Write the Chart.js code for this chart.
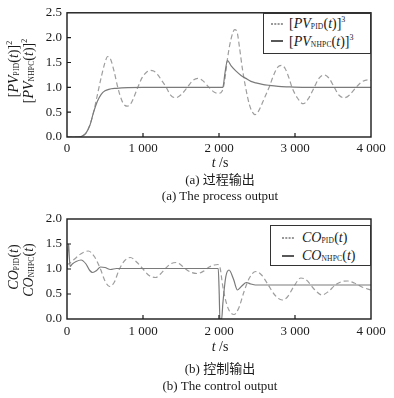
<!DOCTYPE html>
<html><head><meta charset="utf-8">
<script src="https://cdn.jsdelivr.net/npm/chart.js@4.4.1/dist/chart.umd.min.js"></script>
<style>
body{margin:0;background:#fff;}
#wrap{position:relative;width:394px;height:398px;overflow:hidden;font-family:"Liberation Serif","DejaVu Serif","Noto Sans CJK SC",serif;color:#1a1a1a;}
canvas{position:absolute;left:0;}
.t{position:absolute;white-space:nowrap;}
.c{transform:translateX(-50%);font-size:13px;line-height:14px;}
.r{font-size:14px;line-height:14px;transform:translate(-50%,-50%) rotate(-90deg);}
.lg{font-size:14px;line-height:14px;}
i{font-style:italic;}
.sb{font-size:7.5px;position:relative;top:1px;letter-spacing:0.2px;}
.sp{font-size:8px;position:relative;top:-6px;}
.box{position:absolute;border:1.3px solid #333;box-sizing:border-box;background:#fff;}
svg{position:absolute;}
</style>
</head><body>
<div id="wrap">
<canvas id="c1" width="394" height="200" style="top:0"></canvas>
<canvas id="c2" width="394" height="198" style="top:200px"></canvas>

<div class="t r" style="left:15px;top:69px">[<i>PV</i><span class="sb">PID</span>(<i>t</i>)]<span class="sp">2</span></div>
<div class="t r" style="left:30px;top:71px">[<i>PV</i><span class="sb">NHPC</span>(<i>t</i>)]<span class="sp">2</span></div>
<div class="t r" style="left:15px;top:267px"><i>CO</i><span class="sb">PID</span>(<i>t</i>)</div>
<div class="t r" style="left:30px;top:270px"><i>CO</i><span class="sb">NHPC</span>(<i>t</i>)</div>

<div class="box" style="left:263px;top:13px;width:108px;height:41px"></div>
<svg style="left:271px;top:20px" width="13" height="8"><line x1="0" y1="4" x2="12" y2="4" stroke="#333" stroke-width="1.2" stroke-dasharray="2,1.3"/></svg>
<svg style="left:271px;top:37px" width="13" height="8"><line x1="0" y1="4" x2="12" y2="4" stroke="#111" stroke-width="1.4"/></svg>
<div class="t lg" style="left:289px;top:17px">[<i>PV</i><span class="sb">PID</span>(<i>t</i>)]<span class="sp">3</span></div>
<div class="t lg" style="left:289px;top:35px">[<i>PV</i><span class="sb">NHPC</span>(<i>t</i>)]<span class="sp">3</span></div>

<div class="box" style="left:270px;top:225px;width:101px;height:41px"></div>
<svg style="left:282px;top:234px" width="13" height="8"><line x1="0" y1="4" x2="12" y2="4" stroke="#333" stroke-width="1.2" stroke-dasharray="2,1.3"/></svg>
<svg style="left:282px;top:252px" width="13" height="8"><line x1="0" y1="4" x2="12" y2="4" stroke="#111" stroke-width="1.4"/></svg>
<div class="t lg" style="left:302px;top:231px"><i>CO</i><span class="sb">PID</span>(<i>t</i>)</div>
<div class="t lg" style="left:302px;top:249px"><i>CO</i><span class="sb">NHPC</span>(<i>t</i>)</div>

<div class="t c" style="left:220px;top:156px;font-size:14px"><i>t</i> /s</div>
<div class="t c" style="left:220px;top:173px">(a) 过程输出</div>
<div class="t c" style="left:220px;top:189px">(a) The process output</div>
<div class="t c" style="left:220px;top:340px;font-size:14px"><i>t</i> /s</div>
<div class="t c" style="left:220px;top:362px">(b) 控制输出</div>
<div class="t c" style="left:220px;top:379px">(b) The control output</div>
</div>

<script>
// ---- tick labels ----
const xTickLabels = ['0', '1 000', '2 000', '3 000', '4 000'];
const yTickLabelsPV = ['0.0', '0.5', '1.0', '1.5', '2.0', '2.5'];
const yTickLabelsCO = ['0.0', '0.5', '1.0', '1.5', '2.0'];

// ---- (a) process output ----
const tPvPid = [0,150,200,250,300,350,400,450,500,535,575,620,668,720,760,795,835,880,932,990,1050,1100,1140,1190,1250,1306,1360,1429,1500,1583,1650,1720,1790,1868,1940,2000,2040,2065,2085,2111,2155,2207,2240,2270,2310,2350,2400,2440,2475,2520,2580,2620,2660,2720,2770,2823,2870,2920,2960,3030,3108,3180,3253,3320,3385,3450,3517,3580,3649,3720,3803,3880,3960,4000];
const pvPid = [0,0,0.02,0.08,0.24,0.5,0.85,1.2,1.5,1.62,1.56,1.32,1.0,0.74,0.64,0.62,0.66,0.8,1.0,1.2,1.31,1.34,1.33,1.26,1.13,1.0,0.85,0.79,0.85,1.0,1.13,1.18,1.13,1.0,0.9,0.88,0.92,1.05,1.25,1.57,1.95,2.16,2.1,1.8,1.35,1.0,0.65,0.5,0.45,0.52,0.72,0.86,1.0,1.25,1.4,1.44,1.38,1.19,1.0,0.79,0.67,0.78,1.0,1.19,1.25,1.18,1.0,0.84,0.79,0.85,1.0,1.11,1.15,1.14];
const tPvNhpc = [0,150,200,250,300,350,400,450,500,550,650,800,1000,2000,2050,2080,2111,2160,2221,2290,2353,2420,2485,2570,2660,2780,2900,3100,4000];
const pvNhpc = [0,0,0.02,0.08,0.23,0.5,0.72,0.86,0.93,0.96,0.98,0.995,1.0,1.0,1.0,1.3,1.54,1.43,1.33,1.24,1.18,1.12,1.09,1.06,1.04,1.02,1.01,1.0,1.0];

// ---- (b) control output ----
const tCoPid = [0,40,100,180,280,360,440,500,560,620,690,760,835,915,1000,1080,1165,1230,1290,1360,1440,1500,1561,1640,1715,1800,1870,1940,1985,2015,2045,2080,2130,2198,2260,2330,2400,2484,2560,2640,2740,2830,2900,2980,3078,3150,3250,3355,3440,3530,3620,3694,3780,3880,4000];
const coPid = [1.08,1.12,1.2,1.3,1.36,1.25,1.0,0.76,0.65,0.73,1.0,1.17,1.23,1.14,1.0,0.87,0.83,0.9,1.0,1.1,1.13,1.08,1.0,0.93,0.91,0.96,1.04,1.08,1.09,1.02,0.7,0.42,0.18,0.09,0.22,0.55,0.82,0.95,0.88,0.7,0.47,0.38,0.44,0.64,0.82,0.78,0.6,0.48,0.55,0.68,0.75,0.76,0.72,0.64,0.58];
const tCoNhpc = [0,18,22,40,70,120,185,250,300,338,390,440,500,572,650,1000,1990,2003,2012,2035,2050,2090,2132,2190,2243,2300,2361,2420,2480,3000,4000];
const coNhpc = [1.0,1.5,1.48,1.05,1.1,1.15,1.18,1.1,0.97,0.93,0.97,1.04,1.03,0.99,1.01,1.01,1.01,0.5,0.0,0.0,0.3,0.85,0.98,0.8,0.58,0.66,0.73,0.7,0.68,0.68,0.68];

const pts = (ts, vs) => ts.map((t, i) => ({x: t, y: vs[i]}));

const framePlugin = {
  id: 'frame',
  afterDraw(chart) {
    const {ctx, chartArea: a, scales: {x, y}} = chart;
    ctx.save();
    ctx.strokeStyle = '#1a1a1a';
    ctx.lineWidth = 1.4;
    ctx.strokeRect(a.left, a.top, a.right - a.left, a.bottom - a.top);
    ctx.lineWidth = 1.2;
    ctx.beginPath();
    x.ticks.forEach(tk => {
      const px = x.getPixelForValue(tk.value);
      if (px > a.left + 2 && px < a.right - 2) { ctx.moveTo(px, a.bottom); ctx.lineTo(px, a.bottom - 4); }
    });
    y.ticks.forEach(tk => {
      const py = y.getPixelForValue(tk.value);
      if (py > a.top + 2 && py < a.bottom - 2) { ctx.moveTo(a.left, py); ctx.lineTo(a.left + 4, py); }
    });
    ctx.stroke();
    ctx.restore();
  }
};

function makeChart(id, pidData, nhpcData, yMax, yLabels, padTop, xHeight, xPad) {
  const font = {family: "'Liberation Serif','DejaVu Serif',serif", size: 13};
  return new Chart(document.getElementById(id), {
    type: 'line',
    data: {
      datasets: [
        {data: nhpcData, borderColor: '#7a7a7a', borderWidth: 1.2, pointRadius: 0, cubicInterpolationMode: 'monotone', fill: false},
        {data: pidData, borderColor: '#9e9e9e', borderWidth: 1.2, borderDash: [5, 3], pointRadius: 0, cubicInterpolationMode: 'monotone', fill: false}
      ]
    },
    options: {
      responsive: false, animation: false, devicePixelRatio: 1,
      layout: {padding: {left: 0, right: 23, top: padTop, bottom: 0}},
      plugins: {legend: {display: false}, tooltip: {enabled: false}},
      scales: {
        x: {
          type: 'linear', min: 0, max: 4000,
          ticks: {stepSize: 1000, padding: xPad, color: '#1a1a1a', font, maxRotation: 0, autoSkip: false,
                  callback: (v, i) => xTickLabels[i]},
          grid: {display: false, drawTicks: false}, border: {display: false},
          afterFit: s => { s.height = xHeight; }
        },
        y: {
          type: 'linear', min: 0, max: yMax,
          ticks: {stepSize: 0.5, padding: 5, color: '#1a1a1a', font, autoSkip: false,
                  callback: (v, i) => yLabels[i]},
          grid: {display: false, drawTicks: false}, border: {display: false},
          afterFit: s => { s.width = 67; }
        }
      }
    },
    plugins: [framePlugin]
  });
}

makeChart('c1', pts(tPvPid, pvPid), pts(tPvNhpc, pvNhpc), 2.5, yTickLabelsPV, 9, 63, 4);
makeChart('c2', pts(tCoPid, coPid), pts(tCoNhpc, coNhpc), 2.0, yTickLabelsCO, 19, 79, 5);
</script>
</body></html>
